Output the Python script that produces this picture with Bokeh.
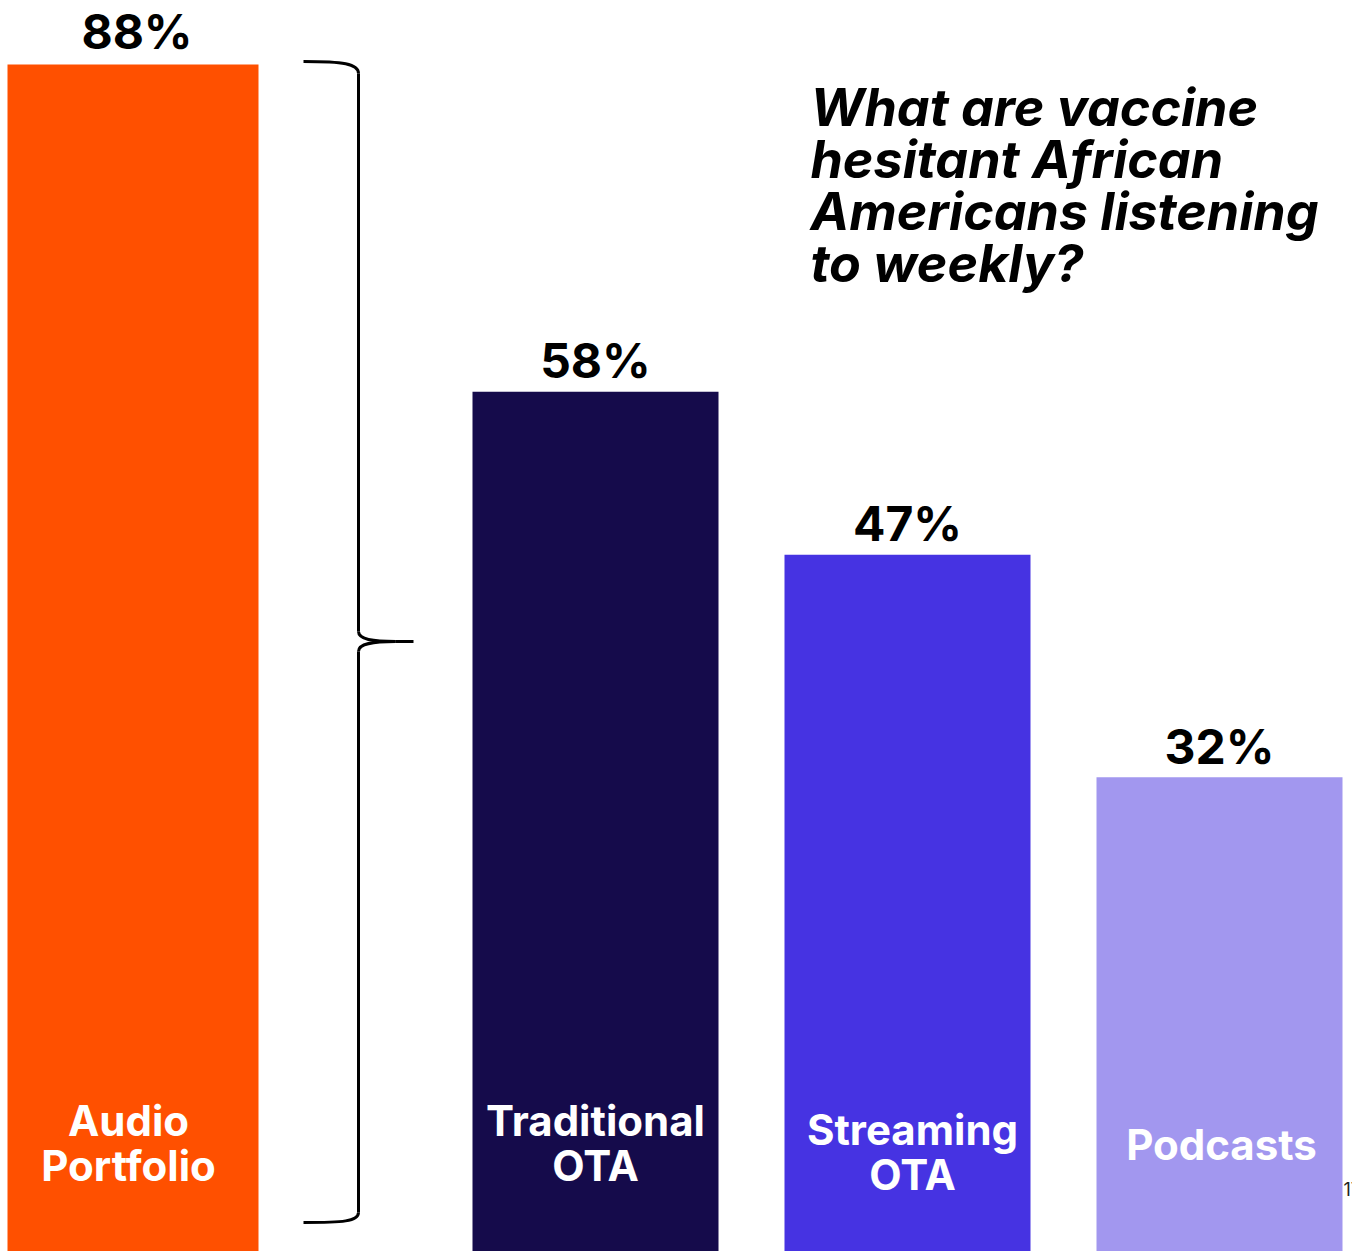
from bokeh.plotting import figure
from bokeh.models import Range1d, ColumnDataSource
from bokeh.core.properties import value
from bokeh.embed import file_html
from bokeh.resources import INLINE

# ---- data ----
categories = ["Audio\nPortfolio", "Traditional\nOTA", "Streaming\nOTA", "Podcasts"]
values = [88, 58, 47, 32]
value_labels = ["88%", "58%", "47%", "32%"]
colors = ["#FF5000", "#150B4B", "#4633E2", "#A297EF"]
title_lines = ["What are vaccine", "hesitant African", "Americans listening", "to weekly?"]
page_number = "17"

# ---- layout (pixel-based positions) ----
W, H = 1352, 1251
centers = [132.5, 595, 907, 1219]
widths = [251, 246, 246, 246]
label_x = [128, 595, 912, 1221]
label_first_baseline = [1120, 1120, 1129, 1144]
line_gap = 45

p = figure(width=W, height=H, output_backend="svg", toolbar_location=None,
           x_range=Range1d(0, W), y_range=Range1d(0, 84.4),
           min_border=0, min_border_left=0, min_border_right=0,
           min_border_top=0, min_border_bottom=0)
p.axis.visible = False
p.grid.visible = False
p.outline_line_color = None
p.background_fill_color = "white"
p.border_fill_color = "white"

# separate scale for the total bar (drawn with a visual break) and a pixel scale for annotations
p.extra_y_ranges = {"total": Range1d(0, 92.74), "px": Range1d(H, 0)}

# total bar
p.vbar(x=[centers[0]], top=[values[0]], bottom=0, width=widths[0],
       fill_color=colors[0], line_color=None, y_range_name="total")
p.text(x=[centers[0] + 4], y=[values[0]], text=[value_labels[0]], y_range_name="total",
       text_font=value("Inter"), text_font_style="bold", text_font_size="48px",
       text_align="center", text_baseline="alphabetic", y_offset=-33, text_color="black")

# component bars
src = ColumnDataSource(dict(x=centers[1:], top=values[1:], w=widths[1:], c=colors[1:],
                            lab=value_labels[1:]))
p.vbar(x="x", top="top", bottom=0, width="w", fill_color="c", line_color=None, source=src)
p.text(x="x", y="top", text="lab", source=src,
       text_font=value("Inter"), text_font_style="bold", text_font_size="48px",
       text_align="center", text_baseline="alphabetic", y_offset=-31, text_color="black")

# category labels inside bars
lx, ly, lt = [], [], []
for i, cat in enumerate(categories):
    for j, line in enumerate(cat.split("\n")):
        lx.append(label_x[i])
        ly.append(label_first_baseline[i] + j * line_gap)
        lt.append(line)
p.text(x=lx, y=ly, text=lt, y_range_name="px",
       text_font=value("Inter"), text_font_style="bold", text_font_size="42px",
       text_align="center", text_baseline="alphabetic", text_color="white")

# curly brace
bx, tipx = 358, 413
p.bezier(x0=[303], y0=[61], x1=[bx], y1=[73], cx0=[342], cy0=[61], cx1=[bx], cy1=[63],
         line_color="black", line_width=3, y_range_name="px")
p.segment(x0=[bx], y0=[73], x1=[bx], y1=[631], line_color="black", line_width=3, y_range_name="px")
p.bezier(x0=[bx], y0=[631], x1=[395], y1=[641], cx0=[bx], cy0=[639], cx1=[372], cy1=[641],
         line_color="black", line_width=3, y_range_name="px")
p.bezier(x0=[bx], y0=[651], x1=[395], y1=[641], cx0=[bx], cy0=[643], cx1=[372], cy1=[641],
         line_color="black", line_width=3, y_range_name="px")
p.segment(x0=[395], y0=[641], x1=[tipx], y1=[641], line_color="black", line_width=3, y_range_name="px")
p.segment(x0=[bx], y0=[651], x1=[bx], y1=[1212], line_color="black", line_width=3, y_range_name="px")
p.bezier(x0=[bx], y0=[1212], x1=[303], y1=[1222], cx0=[bx], cy0=[1221], cx1=[342], cy1=[1222],
         line_color="black", line_width=3, y_range_name="px")

# title
p.text(x=[810] * len(title_lines), y=[107 + 52 * i for i in range(len(title_lines))],
       text=title_lines, y_range_name="px",
       text_font=value("Inter"), text_font_style="bold italic", text_font_size="52px",
       text_align="left", text_baseline="alphabetic", text_color="black")

# page number (cut off at the right edge, as in the original slide)
p.text(x=[1343], y=[1188], text=[page_number], y_range_name="px",
       text_font=value("Inter"), text_font_size="18px",
       text_align="left", text_baseline="middle", text_color="#222222")

open("out.html", "w").write(file_html(p, INLINE))
